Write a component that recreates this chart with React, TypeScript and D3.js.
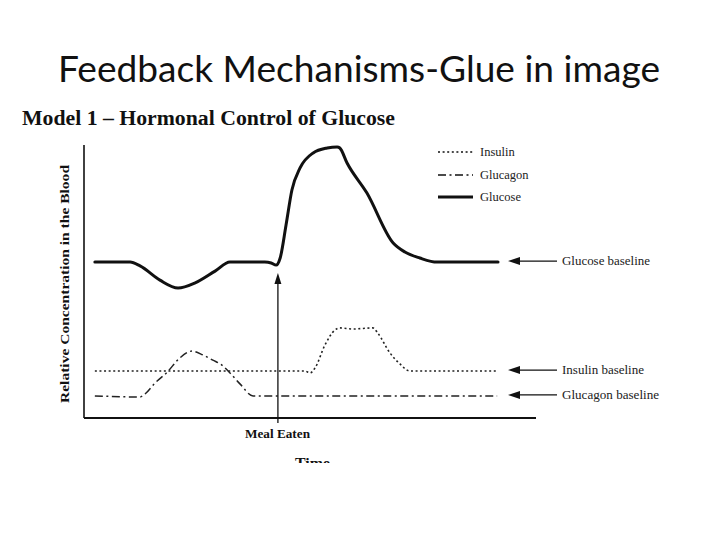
import React from "react";
import * as d3 from "d3";

// ---- Data (relative units: time 0-100, concentration 0-100) ----
const glucoseT = [2.4, 10.2, 12.4, 16.8, 20.8, 24.6, 29.0, 32.3, 40.0, 41.4, 42.5, 43.4, 44.7, 46.0, 47.8, 50.7, 53.8, 56.0, 56.6, 58.2, 62.6, 68.4, 71.0, 74.3, 78.1, 91.6];
const glucoseV = [57.1, 57.1, 55.7, 50.5, 47.6, 49.5, 53.8, 57.1, 57.1, 56.8, 56.0, 58.6, 70.7, 83.5, 91.6, 97.1, 98.9, 99.3, 98.9, 93.4, 82.4, 64.1, 60.8, 58.6, 57.1, 57.1];

const insulinT = [2.4, 48.9, 50.0, 51.1, 53.3, 55.5, 56.6, 59.5, 63.9, 65.0, 67.7, 69.9, 72.1, 91.4];
const insulinV = [17.2, 17.2, 16.5, 18.3, 26.7, 32.2, 33.0, 32.6, 33.0, 31.1, 23.8, 19.8, 17.2, 17.2];

const glucagonT = [2.4, 12.4, 13.5, 15.7, 18.4, 21.2, 23.9, 26.3, 28.5, 30.5, 32.3, 34.5, 37.4, 91.4];
const glucagonV = [8.1, 7.7, 8.8, 12.8, 16.8, 22.0, 24.5, 23.1, 21.2, 19.4, 16.5, 12.5, 8.1, 8.1];

const seriesNames = ["Insulin", "Glucagon", "Glucose"];
const baselineLabels = ["Glucose baseline", "Insulin baseline", "Glucagon baseline"];
const baselineValues = [57.1, 17.2, 8.1];
const mealTime = 42.9;

const W = 720;
const H = 540;

export default function App() {
  const x = d3.scaleLinear().domain([0, 100]).range([84, 536]);
  const y = d3.scaleLinear().domain([0, 100]).range([418, 145]);

  const line = d3
    .line<[number, number]>()
    .x((d) => x(d[0]))
    .y((d) => y(d[1]))
    .curve(d3.curveMonotoneX);

  const zip = (t: number[], v: number[]) => t.map((ti, i) => [ti, v[i]] as [number, number]);

  const glucosePath = line(zip(glucoseT, glucoseV)) || "";
  const insulinPath = line(zip(insulinT, insulinV)) || "";
  const glucagonPath = line(zip(glucagonT, glucagonV)) || "";

  const serif = "'Liberation Serif', 'Times New Roman', serif";
  const styles = [
    { dash: "2,2.6", width: 1.6 },
    { dash: "8,3.5,2,3.5", width: 1.5 },
    { dash: "", width: 3 },
  ];

  const mx = x(mealTime);
  const arrowTipY = 273;

  return (
    <svg
      width={W}
      height={H}
      viewBox={`0 0 ${W} ${H}`}
      style={{ position: "fixed", left: 0, top: 0, background: "#fff" }}
    >
      <defs>
        <clipPath id="pageClip">
          <rect x={0} y={0} width={W} height={463} />
        </clipPath>
      </defs>
      <rect x={0} y={0} width={W} height={H} fill="#fff" />

      <text
        x={58}
        y={82}
        fontFamily="Lato, 'Open Sans', sans-serif"
        fontSize={36}
        fill="#111"
        textLength={602}
        lengthAdjust="spacingAndGlyphs"
      >
        Feedback Mechanisms-Glue in image
      </text>

      <text
        x={22}
        y={125}
        fontFamily={serif}
        fontWeight="bold"
        fontSize={20}
        fill="#111"
        textLength={373}
        lengthAdjust="spacingAndGlyphs"
      >
        Model 1 – Hormonal Control of Glucose
      </text>

      {/* axes */}
      <line x1={x(0)} x2={x(0)} y1={y(100)} y2={y(0)} stroke="#111" strokeWidth={1.6} />
      <line x1={x(0)} x2={x(100)} y1={y(0)} y2={y(0)} stroke="#111" strokeWidth={1.8} />

      <text
        transform={`translate(69,284) rotate(-90)`}
        textAnchor="middle"
        fontFamily={serif}
        fontWeight="bold"
        fontSize={13}
        fill="#111"
        textLength={238}
        lengthAdjust="spacingAndGlyphs"
      >
        Relative Concentration in the Blood
      </text>

      {/* curves */}
      <path d={insulinPath} fill="none" stroke="#222" strokeWidth={styles[0].width} strokeDasharray={styles[0].dash} />
      <path d={glucagonPath} fill="none" stroke="#222" strokeWidth={styles[1].width} strokeDasharray={styles[1].dash} />
      <path d={glucosePath} fill="none" stroke="#111" strokeWidth={styles[2].width} strokeLinejoin="round" strokeLinecap="round" />

      {/* meal arrow */}
      <line x1={mx} x2={mx} y1={y(0) + 5} y2={arrowTipY + 8} stroke="#111" strokeWidth={1.3} />
      <path
        d={`M${mx},${arrowTipY} L${mx - 3.5},${arrowTipY + 11} L${mx + 3.5},${arrowTipY + 11} Z`}
        fill="#111"
      />
      <text x={245} y={438} fontFamily={serif} fontWeight="bold" fontSize={12.5} fill="#111" textLength={65} lengthAdjust="spacingAndGlyphs">
        Meal Eaten
      </text>
      <g clipPath="url(#pageClip)">
        <text x={295} y={467.5} fontFamily={serif} fontWeight="bold" fontSize={15} fill="#111" textLength={35} lengthAdjust="spacingAndGlyphs">
          Time
        </text>
      </g>

      {/* legend */}
      {seriesNames.map((name, i) => {
        const ly = [152, 175, 197][i];
        return (
          <g key={name}>
            <line
              x1={438}
              x2={473}
              y1={ly}
              y2={ly}
              stroke="#111"
              strokeWidth={styles[i].width}
              strokeDasharray={styles[i].dash}
            />
            <text x={480} y={ly + 4} fontFamily={serif} fontSize={12.5} fill="#222">
              {name}
            </text>
          </g>
        );
      })}

      {/* baseline annotations */}
      {baselineLabels.map((lab, i) => {
        const by = y(baselineValues[i]) - 1;
        return (
          <g key={lab}>
            <line x1={514} x2={557} y1={by} y2={by} stroke="#111" strokeWidth={1.3} />
            <path d={`M508,${by} L520,${by - 4} L520,${by + 4} Z`} fill="#111" />
            <text x={562} y={by + 4} fontFamily={serif} fontSize={12} fill="#222" textLength={i === 0 ? 88 : i === 1 ? 82 : 97} lengthAdjust="spacingAndGlyphs">
              {lab}
            </text>
          </g>
        );
      })}
    </svg>
  );
}
